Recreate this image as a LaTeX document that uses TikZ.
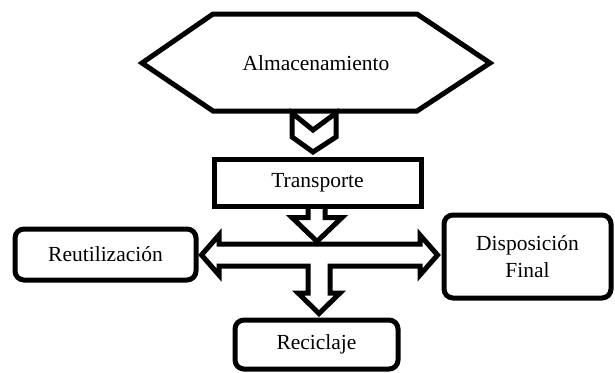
\documentclass[tikz,border=0pt]{standalone}
\usepackage{fontspec}
\setmainfont{Liberation Serif}
\usetikzlibrary{calc}
\begin{document}
\begin{tikzpicture}[x=1pt,y=-1pt,
  txt/.style={font=\fontsize{21.5}{27}\selectfont, align=center},
  box/.style={txt, draw, line width=5pt, rounded corners=9pt, inner sep=0pt},
  rectbox/.style={txt, draw, line width=5pt, inner sep=0pt},
  blockarrow/.style={draw, line width=5pt, line join=miter}]
\useasboundingbox (0,0) rectangle (615,372);

% hexagon
\draw[line width=5pt, line join=miter]
  (142,63) -- (213,14) -- (417,14) -- (490,63) -- (417,111) -- (213,111) -- cycle;
\node[txt] (alm) at (316,63) {Almacenamiento};

% boxes
\node[rectbox, minimum width=207pt, minimum height=47pt] (trans) at (317.5,182.5) {Transporte};
\node[box, minimum width=181pt, minimum height=51pt] (reut) at (105.5,254.5) {Reutilización};
\node[box, minimum width=167pt, minimum height=83pt] (disp) at (527.5,256.5) {Disposición\\Final};
\node[box, minimum width=163pt, minimum height=49pt] (recic) at (316.5,344.5) {Reciclaje};

% chevron between hexagon and Transporte
\draw[blockarrow] (292,113) -- (313,130) -- (336,113) -- (336,137) -- (313,152) -- (292,137) -- cycle;

% arrow from Transporte
\draw[blockarrow] ($(trans.south)+(-9.5,0)$) -- ++(0,9) -- ++(-16,0) -- ++(25,24) -- ++(25,-24) -- ++(-17,0) -- ++(0,-9);

% T-shaped arrow to Reutilización, Disposición Final and Reciclaje
\draw[blockarrow]
  ($(reut.east)+(3,0.5)$) -- (219,235) -- (219,244) -- (420,244) -- (420,235) -- ($(disp.west)+(-4,-1.5)$)
  -- (420,275) -- (420,266) -- (330,266) -- (330,293) -- (340,293) -- ($(recic.north)+(2.5,-4)$)
  -- (298,293) -- (308,293) -- (308,266) -- (219,266) -- (219,275) -- cycle;
\end{tikzpicture}
\end{document}
